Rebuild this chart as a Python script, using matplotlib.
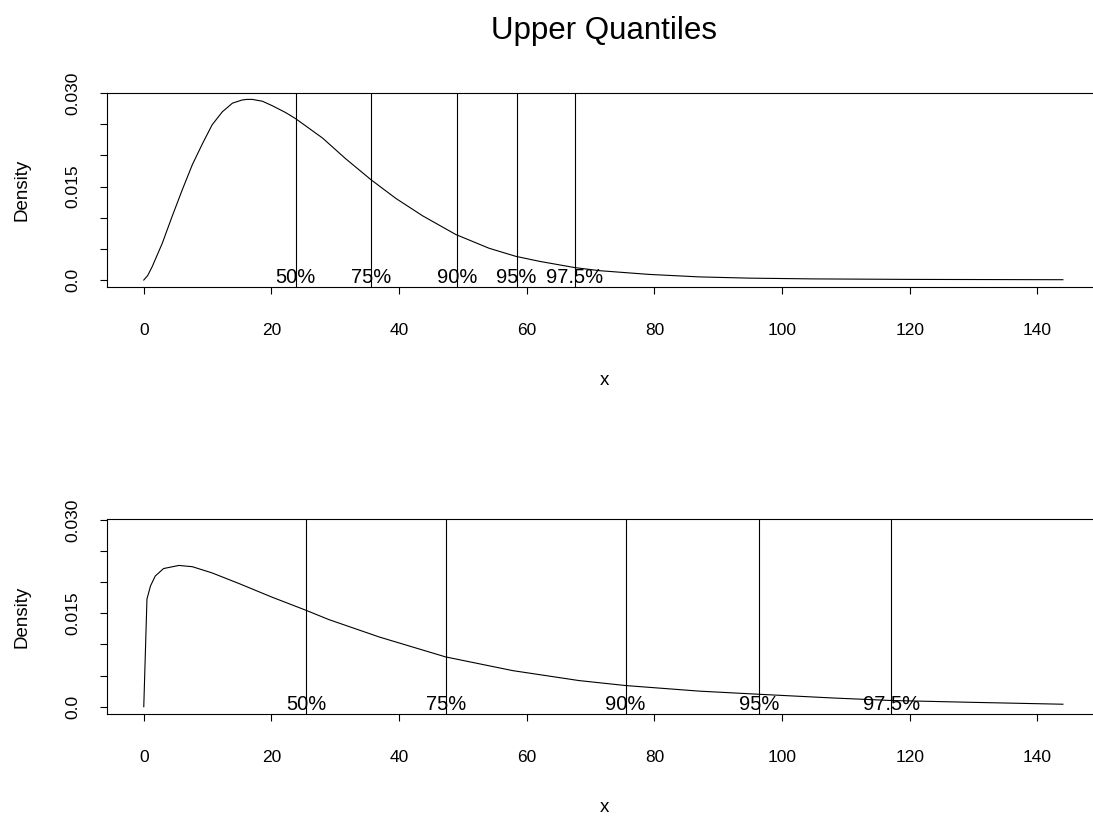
import matplotlib
matplotlib.use("Agg")
import matplotlib.pyplot as plt

plt.rcParams['font.family'] = ['Liberation Sans', 'DejaVu Sans']

# upper panel: density curve
x_top = [0, 0.6, 1.3, 2.9, 4.4, 6.0, 7.6, 9.2, 10.7, 12.3, 13.9, 15.4, 16.2, 17.0,
         18.6, 20.1, 22.2, 23.8, 28.0, 31.6, 35.6, 39.5, 43.7, 48.9, 54.1, 58.3,
         62.0, 67.5, 71.4, 79.2, 87.1, 95, 105, 120, 144]
y_top = [0, 0.0007, 0.0021, 0.0059, 0.0101, 0.0144, 0.0185, 0.0219, 0.0249, 0.0270,
         0.0284, 0.0289, 0.02900, 0.0290, 0.0287, 0.0280, 0.0269, 0.0259, 0.0228,
         0.0195, 0.0161, 0.0131, 0.0103, 0.0073, 0.0051, 0.0038, 0.0030, 0.0020,
         0.0015, 0.0009, 0.0005, 0.0003, 0.00018, 0.0001, 0.00005]
q_top = [23.8, 35.6, 49.05, 58.4, 67.5]

# lower panel
x_bot = [0, 0.5, 1.05, 1.8, 3.1, 5.5, 7.6, 10.7, 14.9, 20.1, 25.4, 29.0, 36.9,
         47.3, 57.8, 68.2, 75.5, 87.1, 96.4, 108, 117.1, 130, 144]
y_bot = [0, 0.0173, 0.0194, 0.0210, 0.0222, 0.0227, 0.0225, 0.0215, 0.0198, 0.0176,
         0.0155, 0.0140, 0.0112, 0.0080, 0.0058, 0.0042, 0.0034, 0.0025, 0.0020,
         0.0014, 0.0010, 0.0007, 0.0004]
q_bot = [25.4, 47.4, 75.5, 96.4, 117.1]

q_labels = ['50%', '75%', '90%', '95%', '97.5%']
xticks = [0, 20, 40, 60, 80, 100, 120, 140]
yticks = [0, 0.005, 0.010, 0.015, 0.020, 0.025, 0.030]
ytick_labels = ['0.0', '', '', '0.015', '', '', '0.030']

fig = plt.figure(figsize=(10.93, 8.16), dpi=100)
ax1 = fig.add_axes([0.0979, 0.6479, 0.9082, 0.2387])
ax2 = fig.add_axes([0.0979, 0.1250, 0.9082, 0.2385])

for ax, xs, ys, qs, ylab_y, xlab_y in [(ax1, x_top, y_top, q_top, 0.767, 0.534),
                                       (ax2, x_bot, y_bot, q_bot, 0.244, 0.011)]:
    ax.plot(xs, ys, color='black', lw=0.8)
    for q, lab in zip(qs, q_labels):
        ax.axvline(q, color='black', lw=0.8)
        ax.text(q, -0.00045, lab, ha='center', va='baseline', fontsize=14.5)
    ax.set_xlim(-5.76, 149.76)
    ax.set_ylim(-0.00117, 0.0301)
    ax.set_xticks(xticks)
    ax.set_xticklabels([str(t) for t in xticks])
    ax.set_yticks(yticks)
    ax.set_yticklabels(ytick_labels, rotation=90, va='center')
    ax.tick_params(axis='x', length=5, width=0.8, pad=21, labelsize=12.5)
    ax.tick_params(axis='y', length=5, width=0.8, pad=14, labelsize=12.5)
    ax.spines['right'].set_visible(False)
    for s in ['left', 'top', 'bottom']:
        ax.spines[s].set_linewidth(0.8)
    fig.text(0.020, ylab_y, 'Density', rotation=90, ha='center', va='center', fontsize=13.5)
    fig.text(0.5526, xlab_y, 'x', ha='center', va='center', fontsize=13.5)

fig.text(0.5526, 0.962, 'Upper Quantiles', ha='center', va='center', fontsize=22.5)

fig.savefig('out.png', dpi=100)
